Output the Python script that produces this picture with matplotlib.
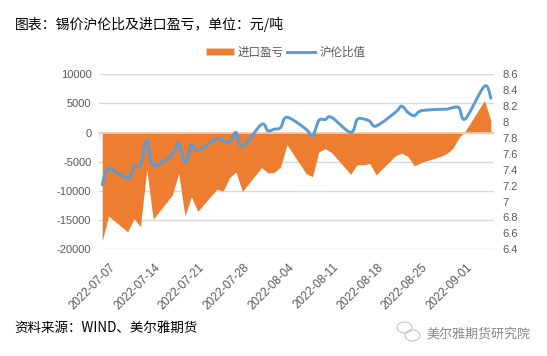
import numpy as np
import pandas as pd
import matplotlib
matplotlib.use("Agg")
import matplotlib.pyplot as plt
from matplotlib.patches import Patch, Arc
from matplotlib.lines import Line2D
from matplotlib.transforms import IdentityTransform

W, H = 547, 356
plt.rcParams['font.family'] = ['Noto Sans CJK SC', 'DejaVu Sans']

dates = ["2022-07-07","2022-07-08","2022-07-11","2022-07-12","2022-07-13","2022-07-14","2022-07-15",
         "2022-07-18","2022-07-19","2022-07-20","2022-07-21","2022-07-22",
         "2022-07-25","2022-07-26","2022-07-27","2022-07-28","2022-07-29",
         "2022-08-01","2022-08-02","2022-08-03","2022-08-04","2022-08-05",
         "2022-08-08","2022-08-09","2022-08-10","2022-08-11","2022-08-12",
         "2022-08-15","2022-08-16","2022-08-17","2022-08-18","2022-08-19",
         "2022-08-22","2022-08-23","2022-08-24","2022-08-25","2022-08-26",
         "2022-08-29","2022-08-30","2022-08-31","2022-09-01","2022-09-02",
         "2022-09-05","2022-09-06"]
import_profit = [-18570,-14300,-17000,-14750,-16100,-6300,-14850,
                 -10700,-7000,-14300,-11000,-13500,
                 -9700,-10000,-7700,-6750,-10100,
                 -6000,-6900,-6800,-5900,-2050,
                 -7000,-7550,-3300,-2750,-3400,
                 -7150,-5500,-5500,-5300,-7250,
                 -4000,-3500,-4100,-5700,-5150,
                 -4100,-3650,-2750,-850,300,
                 5500,2100]
ratio = [7.21,7.41,7.30,7.44,7.46,7.77,7.46,
         7.59,7.74,7.49,7.71,7.64,
         7.79,7.76,7.75,7.87,7.69,
         7.97,7.89,7.91,7.93,8.06,
         7.91,7.82,8.02,8.03,8.06,
         7.87,8.03,8.04,8.01,7.95,
         8.12,8.20,8.12,8.08,8.14,
         8.16,8.16,8.18,8.18,8.04,
         8.45,8.30]
tick_dates = ["2022-07-07","2022-07-14","2022-07-21","2022-07-28","2022-08-04",
              "2022-08-11","2022-08-18","2022-08-25","2022-09-01"]
left_ticks = [10000,5000,0,-5000,-10000,-15000,-20000]
right_ticks = [8.6,8.4,8.2,8,7.8,7.6,7.4,7.2,7,6.8,6.6,6.4]
right_labels = ["8.6","8.4","8.2","8","7.8","7.6","7.4","7.2","7","6.8","6.6","6.4"]

ORANGE, BLUE, GRID, TXT = "#ED7D31", "#5B9BD5", "#D9D9D9", "#595959"

fig = plt.figure(figsize=(W/100, H/100), dpi=100)
L, R, T, B = 99, 494, 74.3, 249.3
ax = fig.add_axes([L/W, 1-B/H, (R-L)/W, (B-T)/H])
ax2 = ax.twinx()

d0 = pd.Timestamp("2022-07-07")
days = lambda s: np.array([(pd.Timestamp(x) - d0).days for x in s], float)
x = days(dates) + 0.5
xt = days(tick_dates)

ax.fill_between(x, import_profit, 0, color=ORANGE, lw=0, zorder=2)
ax.set_xlim(0, 62)
ax.set_ylim(-20000, 10000)
ax.set_yticks(left_ticks)
ax.set_yticklabels([str(v) for v in left_ticks], family='Liberation Sans', fontsize=8, color=TXT)
ax.grid(axis='y', color=GRID, lw=1, zorder=0)
ax.set_axisbelow(True)
for s in ['top', 'right', 'left']:
    ax.spines[s].set_visible(False)
ax.spines['bottom'].set_position(('data', 0))
ax.spines['bottom'].set_color("#F6C9AC")
ax.spines['bottom'].set_linewidth(1.2)
ax.spines['bottom'].set_zorder(3)
ax.set_xticks(xt)
ax.tick_params(axis='x', length=3, width=0.8, color=GRID, direction='out', labelbottom=False)
ax.tick_params(axis='y', length=0, pad=5.5)
for t, s in zip(xt, tick_dates):
    ax.annotate(s, xy=(t, 0), xycoords=('data', 'axes fraction'), xytext=(7.5, -8.5),
                textcoords='offset points', rotation=45, ha='right', va='top',
                rotation_mode='anchor', family='Liberation Sans', fontsize=8.4, color=TXT)

def smooth(xv, yv, n=16):
    """Catmull-Rom rendering of the straight segments, as a smoothed line."""
    xv, yv = np.asarray(xv, float), np.asarray(yv, float)
    px = np.r_[xv[0], xv, xv[-1]]
    py = np.r_[yv[0], yv, yv[-1]]
    xs, ys = [], []
    s = np.linspace(0, 1, n)[:, None]
    for i in range(1, len(px) - 2):
        for arr, out in ((px, xs), (py, ys)):
            a, b, c, d = arr[i-1], arr[i], arr[i+1], arr[i+2]
            out.append((0.5*((2*b) + (c-a)*s + (2*a-5*b+4*c-d)*s**2 + (3*b-a-3*c+d)*s**3)).ravel())
    return np.concatenate(xs), np.concatenate(ys)

sx, sy = smooth(x, ratio)
ax2.plot(sx, sy, color=BLUE, lw=2.1, solid_capstyle='round', zorder=5)
ax2.set_ylim(6.4, 8.6)
ax2.set_yticks(right_ticks)
ax2.set_yticklabels(right_labels, family='Liberation Sans', fontsize=8, color=TXT)
ax2.tick_params(axis='y', length=0, pad=6)
for s in ax2.spines.values():
    s.set_visible(False)

handles = [Patch(facecolor=ORANGE, edgecolor="#F6C9AC", lw=0.6), Line2D([0], [0], color=BLUE, lw=2.1)]
fig.legend(handles, ["进口盈亏", "沪伦比值"], loc='center', bbox_to_anchor=(285.5/W, 1-52/H),
           ncol=2, frameon=False, fontsize=8.3, labelcolor=TXT, handlelength=2.45, handleheight=0.6,
           handletextpad=0.35, columnspacing=0.25, borderpad=0)

fig.text(15/W, 1-24/H, "图表：锡价沪伦比及进口盈亏，单位：元/吨", fontsize=10, color='black', va='center', ha='left')
fig.text(14/W, 1-328/H, "资料来源：WIND、美尔雅期货", fontsize=9.7, color='black', va='center', ha='left')
fig.text(426/W, 1-334/H, "美尔雅期货研究院", fontsize=9.4, color="#8A8A8A", va='center', ha='left')
for cx, cy, rx, ry in ((404.5, 327.5, 7.5, 5.5), (412.5, 335.5, 7.5, 5.5)):
    fig.add_artist(Arc((cx, H-cy), 2*rx, 2*ry, theta1=0, theta2=360, color="#BDBDBD", lw=0.7,
                       transform=IdentityTransform()))
fig.savefig("out.png", dpi=100)
